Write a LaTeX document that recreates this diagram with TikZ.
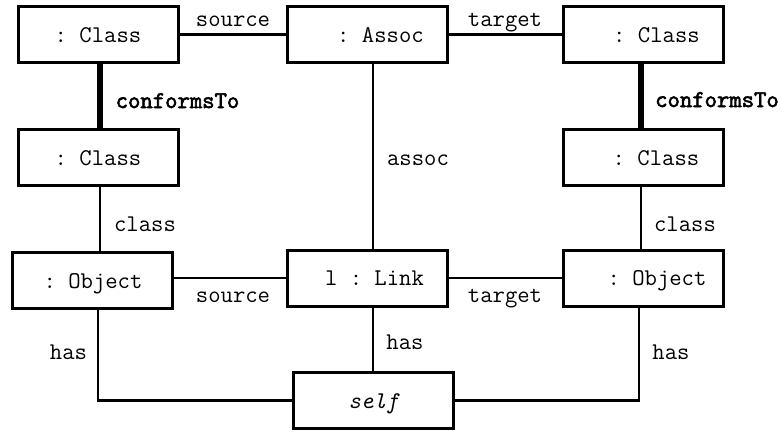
\documentclass[tikz,border=0pt]{standalone}
\usepackage{fontspec}
\setmonofont{Latin Modern Mono}
\newfontfamily\boldmono[FakeBold=2.5]{Latin Modern Mono}
\begin{document}
\begin{tikzpicture}[x=1pt,y=-1pt,
  every node/.style={font=\fontsize{24}{28}\ttfamily},
  obj/.style={draw,line width=3pt,minimum width=160pt,minimum height=56pt,inner sep=0pt,text height=15pt,text depth=0pt},
  conn/.style={line width=2.5pt},
  conf/.style={line width=6pt},
  lab/.style={anchor=base,inner sep=0pt},
  blab/.style={anchor=base,inner sep=0pt,font=\fontsize{24}{28}\boldmono}]
\useasboundingbox (0,0) rectangle (781,431);
\node[obj] (tlc) at (98,34.5) {: Class};
\node[obj] (assoc) at (367.5,34.5) {\hspace*{26pt}: Assoc};
\node[obj] (trc) at (643.5,34.5) {\hspace*{26pt}: Class};
\node[obj] (mlc) at (98,157.5) {: Class};
\node[obj] (mrc) at (643.5,157.5) {\hspace*{25pt}: Class};
\node[obj] (objl) at (92,280.5) {\hspace*{2pt}: Object};
\node[obj] (link) at (367.5,278) {\hspace*{14pt}l : Link};
\node[obj] (objr) at (643.5,278) {\hspace*{27pt}: Object};
\node[obj] (self) at (373.5,400.5) {\itshape self};
% connectors
\draw[conn] (tlc.east) -- (assoc.west);
\draw[conn] (assoc.east) -- (trc.west);
\draw[conf] ([xshift=2pt]tlc.south) -- ([xshift=2pt]mlc.north);
\draw[conf] ([xshift=-2.5pt]trc.south) -- ([xshift=-2.5pt]mrc.north);
\draw[conn] ([xshift=5.5pt]assoc.south) -- ([xshift=5.5pt]link.north);
\draw[conn] ([xshift=2pt]mlc.south) -- ([xshift=2pt]mlc.south |- objl.north);
\draw[conn] ([xshift=-2.5pt]mrc.south) -- ([xshift=-2.5pt]objr.north);
\draw[conn] (objl.east |- link.west) -- (link.west);
\draw[conn] (link.east) -- (objr.west);
\draw[conn] ([xshift=6pt]objl.south) |- (self.west);
\draw[conn] ([xshift=5.5pt]link.south) -- ([xshift=5.5pt]link.south |- self.north);
\draw[conn] ([xshift=-4.5pt]objr.south) |- (self.east);
% labels
\node[lab] (l1) at (233,27) {source};
\node[lab] (l2) at (505,27) {target};
\node[blab] (l3) at (177.5,108) {conformsTo};
\node[blab] (l4) at (717,107) {conformsTo};
\node[lab] (l5) at (418,165) {assoc};
\node[lab] (l6) at (145,231) {class};
\node[lab] (l7) at (685,231) {class};
\node[lab] (l8) at (233,302) {source};
\node[lab] (l9) at (505,302) {target};
\node[lab] (l10) at (68.5,359) {has};
\node[lab] (l11) at (405,349) {has};
\node[lab] (l12) at (671,359) {has};
\end{tikzpicture}
\end{document}
